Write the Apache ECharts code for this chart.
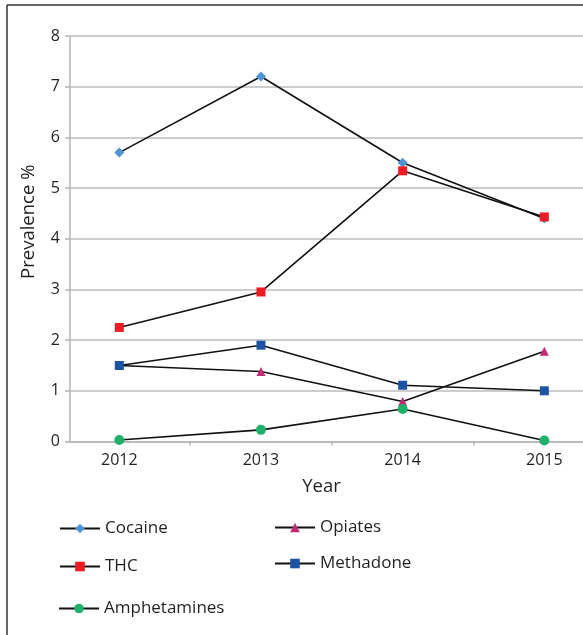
<!DOCTYPE html>
<html>
<head>
<meta charset="utf-8">
<title>Prevalence by year</title>
<script src="https://cdn.jsdelivr.net/npm/echarts@6/dist/echarts.min.js"></script>
<style>
  html, body { margin: 0; padding: 0; background: #fff; }
  #chart { width: 583px; height: 635px; }
</style>
</head>
<body>
<div id="chart"></div>
<script>
// data
var years = [2012, 2013, 2014, 2015];
var cocaine = [5.7, 7.2, 5.5, 4.4];
var opiates = [1.5, 1.38, 0.79, 1.78];
var thc = [2.25, 2.95, 5.34, 4.43];
var methadone = [1.5, 1.9, 1.11, 1.0];
var amphetamines = [0.03, 0.23, 0.64, 0.02];
var yTicks = [0, 1, 2, 3, 4, 5, 6, 7, 8];
// tick marks sit between the years
var xTicks = [2012.5, 2013.5, 2014.5];

var font = 'Open Sans';
var textColor = '#231f20';

function pairs(vals) {
  return vals.map(function (v, i) { return [years[i], v]; });
}

function mkSeries(name, data, symbol, size, color) {
  return {
    name: name,
    type: 'line',
    data: pairs(data),
    symbol: symbol,
    symbolSize: size,
    showAllSymbol: true,
    lineStyle: { color: '#111', width: 1.6 },
    itemStyle: { color: color },
    emphasis: { disabled: true },
    animation: false
  };
}

function mkLegend(name, left, top) {
  return {
    data: [name],
    left: left,
    top: top,
    padding: 0,
    itemWidth: 40,
    itemHeight: 12,
    textStyle: { fontFamily: font, fontSize: 17, color: textColor }
  };
}

var chart = echarts.init(document.getElementById('chart'));
chart.setOption({
  animation: false,
  grid: { left: 70, right: 0, top: 36, bottom: 193.5 },
  xAxis: {
    type: 'value', min: 2011.652, max: 2015.273,
    axisLine: { show: true, lineStyle: { color: '#b5b5b5', width: 1.5 } },
    axisTick: {
      show: true, length: 4, customValues: xTicks,
      lineStyle: { color: '#b5b5b5', width: 1.5 }
    },
    axisLabel: {
      fontFamily: font, fontSize: 16, color: textColor, margin: 11,
      customValues: years,
      formatter: function (v) { return String(v); }
    },
    splitLine: { show: false },
    name: 'Year',
    nameLocation: 'middle',
    nameGap: 36,
    nameTextStyle: { fontFamily: font, fontSize: 18.5, color: textColor, padding: [0, 10, 0, 0] }
  },
  yAxis: {
    type: 'value', min: yTicks[0], max: yTicks[yTicks.length - 1], interval: 1,
    axisLine: { show: true, lineStyle: { color: '#b5b5b5', width: 1.5 } },
    axisTick: { show: true, length: 5, lineStyle: { color: '#b5b5b5', width: 1.5 } },
    axisLabel: { fontFamily: font, fontSize: 16, color: textColor, margin: 10 },
    splitLine: { show: true, lineStyle: { color: '#bdbdbd', width: 1.5 } },
    name: 'Prevalence %',
    nameLocation: 'middle',
    nameGap: 32,
    nameTextStyle: { fontFamily: font, fontSize: 18.5, color: textColor, padding: [0, 0, 0, 34] }
  },
  legend: [
    mkLegend('Cocaine', 59, 520),
    mkLegend('Opiates', 274, 519),
    mkLegend('THC', 59, 558),
    mkLegend('Methadone', 274, 555),
    mkLegend('Amphetamines', 58, 600)
  ],
  graphic: [
    { type: 'line', shape: { x1: 7, y1: 5, x2: 583, y2: 5 }, style: { stroke: '#333', lineWidth: 1.5 } },
    { type: 'line', shape: { x1: 7, y1: 5, x2: 7, y2: 635 }, style: { stroke: '#333', lineWidth: 1.5 } }
  ],
  series: [
    mkSeries('Cocaine', cocaine, 'diamond', 10, '#4f95d6'),
    mkSeries('Opiates', opiates, 'triangle', 9, '#c22a75'),
    mkSeries('THC', thc, 'rect', 9, '#ed1c24'),
    mkSeries('Methadone', methadone, 'rect', 9, '#1c53a3'),
    mkSeries('Amphetamines', amphetamines, 'circle', 10, '#21b06b')
  ]
});
</script>
</body>
</html>
